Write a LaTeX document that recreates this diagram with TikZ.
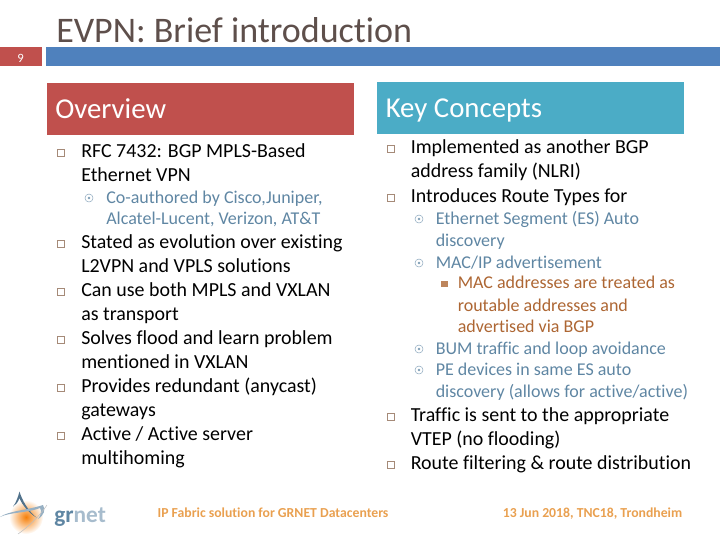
\documentclass[tikz,border=0pt]{standalone}
\usepackage{fontspec}
\setmainfont{Carlito}[Ligatures=NoCommon]
\usepackage{tikz}
\definecolor{slidered}{HTML}{C0504D}
\definecolor{slideblue}{HTML}{4F81BD}
\definecolor{slideteal}{HTML}{4BACC6}
\definecolor{titlegray}{HTML}{5E4F4B}
\definecolor{subblue}{HTML}{5F86A3}
\definecolor{subbrown}{HTML}{AD6633}
\definecolor{bulletbrown}{HTML}{A58A78}
\definecolor{footorange}{HTML}{E9A050}
\tikzset{
  titletext/.style={anchor=base west,inner sep=0pt,text=titlegray,font=\fontsize{27}{30}\selectfont},
  headtext/.style={anchor=base west,inner sep=0pt,text=white,font=\fontsize{21.6}{24}\selectfont},
  maintext/.style={anchor=base west,inner sep=0pt,text=black,font=\fontsize{14.95}{17}\selectfont},
  subtext/.style={anchor=base west,inner sep=0pt,text=subblue,font=\fontsize{13.5}{15}\selectfont},
  subsubtext/.style={anchor=base west,inner sep=0pt,text=subbrown,font=\fontsize{13.5}{15}\selectfont},
  foottext/.style={anchor=base,inner sep=0pt,text=footorange,font=\fontsize{10.3}{11}\selectfont\bfseries},
  boxbullet/.style={draw=bulletbrown,line width=0.5pt,inner sep=0pt,minimum size=5.5pt},
  circbullet/.style={circle,draw=subblue!70,line width=0.4pt,inner sep=0pt,minimum size=6pt,
    path picture={\fill[subblue!80] (path picture bounding box.center) circle (1pt);}},
  fillbullet/.style={fill=subbrown!80,inner sep=0pt,minimum size=5pt},
}
\begin{document}
\begin{tikzpicture}[x=0.75pt,y=0.75pt,yscale=-1,xscale=1]
        \useasboundingbox (0,0) rectangle (720,540);

        % Bars
        \fill [slidered] (0,47) rectangle (42,66);
        \fill [slideblue] (46,47) rectangle (720,66);
        \fill [slidered] (47,83) rectangle (354,135);
        \fill [slideteal] (377,82) rectangle (684,134);

        % Text Node
        \node (pagenum) [anchor=base,inner sep=0pt,text=white,font=\fontsize{9.5}{11}\selectfont] at (20.5,62) {9};
        \node (title) [titletext] at (56,42) {EVPN: Brief introduction};
        \node (overview) [headtext] at (55,118) {Overview};
        \node (keyconcepts) [headtext] at (385.5,117) {Key Concepts};

        % Left column
        \node (boxa) [boxbullet] at (60.5,152.5) {};
        \node (rfca) [maintext] at (81,157) {RFC 7432: BGP MPLS-Based};
        \node (rfcb) [maintext] at (81,181) {Ethernet VPN};
        \node (circa) [circbullet] at (89,198) {};
        \node (coautha) [subtext] at (106,203) {Co-authored by Cisco,Juniper,};
        \node (coauthb) [subtext] at (106,224) {Alcatel-Lucent, Verizon, AT\&T};
        \node (boxb) [boxbullet] at (60.5,243.5) {};
        \node (stateda) [maintext] at (81,248) {Stated as evolution over existing};
        \node (statedb) [maintext] at (81,272) {L2VPN and VPLS solutions};
        \node (boxc) [boxbullet] at (60.5,291.5) {};
        \node (mplsa) [maintext] at (81,296) {Can use both MPLS and VXLAN};
        \node (mplsb) [maintext] at (81,320) {as transport};
        \node (boxd) [boxbullet] at (60.5,339.5) {};
        \node (flooda) [maintext] at (81,344) {Solves flood and learn problem};
        \node (floodb) [maintext] at (81,368) {mentioned in VXLAN};
        \node (boxe) [boxbullet] at (60.5,387.5) {};
        \node (anycasta) [maintext] at (81,392) {Provides redundant (anycast)};
        \node (anycastb) [maintext] at (81,416) {gateways};
        \node (boxf) [boxbullet] at (60.5,435.5) {};
        \node (activea) [maintext] at (81,440) {Active / Active server};
        \node (activeb) [maintext] at (81,464) {multihoming};

        % Right column
        \node (boxg) [boxbullet] at (390.5,148.5) {};
        \node (impla) [maintext] at (410.5,153) {Implemented as another BGP};
        \node (implb) [maintext] at (410.5,177) {address family (NLRI)};
        \node (boxh) [boxbullet] at (390.5,197.5) {};
        \node (intro) [maintext] at (410.5,202) {Introduces Route Types for};
        \node (circb) [circbullet] at (419,219) {};
        \node (esa) [subtext] at (435.5,224) {Ethernet Segment (ES) Auto};
        \node (esb) [subtext] at (435.5,246) {discovery};
        \node (circc) [circbullet] at (419,263) {};
        \node (macip) [subtext] at (435.5,268) {MAC/IP advertisement};
        \node (boxi) [fillbullet] at (444.5,284) {};
        \node (maca) [subsubtext] at (457.5,288) {MAC addresses are treated as};
        \node (macb) [subsubtext] at (457.5,311) {routable addresses and};
        \node (macc) [subsubtext] at (457.5,332) {advertised via BGP};
        \node (circd) [circbullet] at (419,349) {};
        \node (bum) [subtext] at (435.5,354) {BUM traffic and loop avoidance};
        \node (circe) [circbullet] at (419,370) {};
        \node (pea) [subtext] at (435.5,375) {PE devices in same ES auto};
        \node (peb) [subtext] at (435.5,397) {discovery (allows for active/active)};
        \node (boxj) [boxbullet] at (390.5,416.5) {};
        \node (traffica) [maintext] at (410.5,421) {Traffic is sent to the appropriate};
        \node (trafficb) [maintext] at (410.5,445) {VTEP (no flooding)};
        \node (boxk) [boxbullet] at (390.5,464.5) {};
        \node (filter) [maintext] at (410.5,469) {Route filtering \& route distribution};

        % Footer
        \node (footmid) [foottext] at (273,517) {IP Fabric solution for GRNET Datacenters};
        \node (footright) [foottext] at (592.5,517) {13 Jun 2018, TNC18, Trondheim};

        % Logo
        \shade [inner color=orange!85!brown,outer color=white] (26,517) circle (17);
        \fill [color=subblue!85!black] (13,506.5) .. controls (16,503) and (18,497) .. (19.5,491.5) .. controls (22,500) and (28,511) .. (37,518) .. controls (29,513) and (22,505) .. (19.5,498) .. controls (18,502) and (16,505) .. (13,506.5) -- cycle;
        \fill [color=subblue!65] (0,517) .. controls (8,511) and (28,510) .. (43,505) .. controls (46,510) and (44,515) .. (38,519) .. controls (41,515) and (42,511) .. (40,508) .. controls (28,513) and (10,512) .. (0,517) -- cycle;
        \draw [color=black!25,line width=0.4pt] (47,505) .. controls (38,518) and (28,527) .. (18,534);
        \node (logotext) [anchor=base west,inner sep=0pt,text=subblue,font=\fontsize{17.5}{20}\selectfont\bfseries] at (54,522) {gr\textcolor{subblue!55}{net}};
\end{tikzpicture}
\end{document}
